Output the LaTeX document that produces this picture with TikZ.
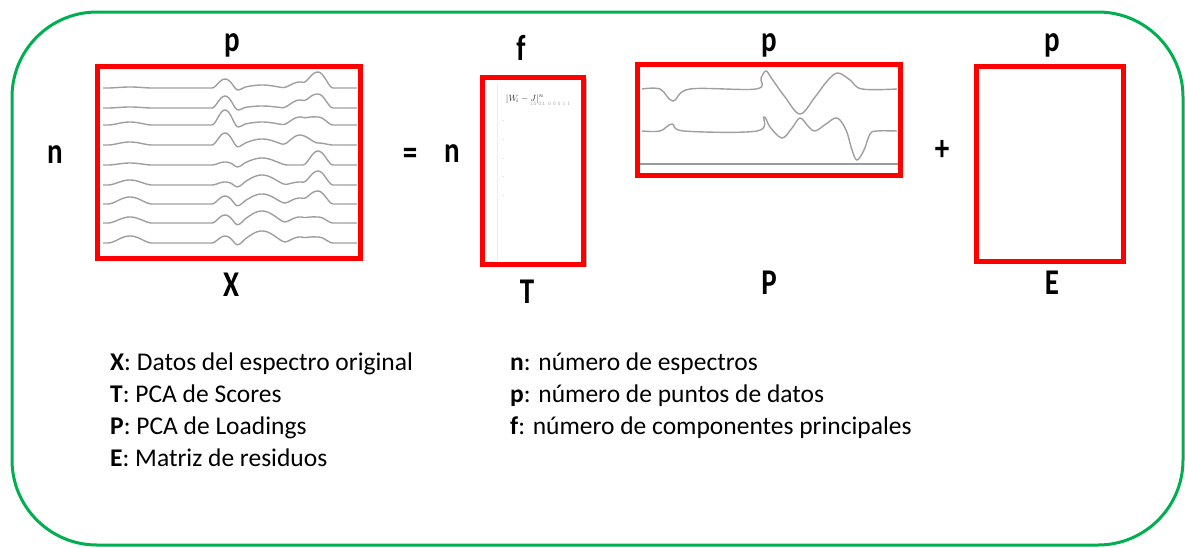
\documentclass[tikz,border=0pt]{standalone}
\usepackage{fontspec}
\setmainfont{Carlito}
\usepackage{graphicx}
\definecolor{frameGreen}{RGB}{0,176,80}
\definecolor{boxRed}{RGB}{255,0,0}
\tikzset{
  redbox/.style={draw=boxRed, line width=5pt},
  spec/.style={gray!75, line width=1.4pt},
  biglbl/.style={font=\fontsize{29}{30}\selectfont\bfseries, inner sep=0pt},
  legend/.style={font=\fontsize{25.5}{32}\selectfont, anchor=base west, inner sep=0pt},
  declare function={bump(\t,\c,\w)=(max(0,1-((\t-\c)/\w)^2))^2;}
}
\newcommand{\tall}[1]{\scalebox{1}[1.25]{#1}}
\begin{document}
\begin{tikzpicture}[x=1pt,y=-1pt]
\useasboundingbox (0,0) rectangle (1185,547);
% outer frame
\draw[frameGreen, line width=3pt, rounded corners=85pt] (12,12) rectangle (1183,545);

% X spectra
\foreach \yy/\aa/\bb/\cc/\dd/\ee in {88/1/9/3/16/6, 108/1/12/2/14/8, 125/3/15/3/8/8, 145/3/12/6/2/10, 165/2/3/7/14/0, 185/5/3/10/14/3, 204/7/8/10/13/6, 223/6/8/12/6/6, 243/7/7/12/6/6}{
  \draw[spec] plot[domain=103:357, samples=160, smooth]
    (\x, {\yy - \aa*bump(\x,130,22) - \bb*bump(\x,225,13) + 2*bump(\x,238,8) - \cc*bump(\x,262,26) - \ee*bump(\x,300,18) - \dd*bump(\x,318,15)});
}
\draw[redbox] (97,66) rectangle (360,258);

% T box
\draw[gray!60, line width=1.5pt] (586,79) -- (586,266) -- (490,266);
\draw[gray!15, line width=1pt] (497,84) -- (497,262);
\node[inner sep=0pt, font=\fontsize{9}{9}\selectfont\bfseries, text=black!80] (tlabel) at (525,99) {$|W_{\!i}-J|^{n}$};
\node[inner sep=0pt, font=\fontsize{5}{5}\selectfont, text=gray!70] (trow) at (550,104) {1.0~~0.1~~~0~~0~~0~~1~~1};
\foreach \yy [count=\i] in {122,141,160,178,197}{
  \node[inner sep=0pt, font=\fontsize{6}{6}\selectfont, text=gray!70] (tm\i) at (503,\yy) {-};
}
\draw[redbox] (482,77) rectangle (583,264);

% P loadings
\draw[spec] plot[smooth, tension=0.6] coordinates {(642,89) (660,89) (673,101) (690,89) (756,89) (761,78) (766,71) (772,79) (785,97) (800,114) (815,97) (828,80) (838,73) (850,80) (862,89) (897,89)};
\draw[spec] plot[smooth, tension=0.6] coordinates {(642,131) (660,131) (672,124) (684,131) (757,131) (764,117) (770,127) (782,138) (792,128) (800,118) (808,126) (815,131) (826,124) (837,118) (846,130) (852,150) (857,160) (864,150) (870,134) (877,131) (897,131)};
\draw[gray!80, line width=2pt] (640,164) -- (899,164);
\draw[redbox] (637,64) rectangle (900,175);

% E box
\draw[redbox] (976,66) rectangle (1123,261);

% labels
\node[biglbl] (pX) at (232,45) {\tall{p}};
\node[biglbl] (nX) at (55,155) {\tall{n}};
\node[biglbl] (eq) at (410,156) {\tall{=}};
\node[biglbl] (nT) at (452,154) {\tall{n}};
\node[biglbl] (fT) at (521,48) {\tall{f}};
\node[biglbl] (pP) at (769,45) {\tall{p}};
\node[biglbl] (plus) at (942,150) {\tall{+}};
\node[biglbl] (pE) at (1052,45) {\tall{p}};
\node[biglbl] (lX) at (231,285) {\tall{X}};
\node[biglbl] (lT) at (527,292) {\tall{T}};
\node[biglbl] (lP) at (769,283) {\tall{P}};
\node[biglbl] (lE) at (1052,283) {\tall{E}};

% legend
\node[legend] (legX) at (110,370) {\textbf{X}: Datos del espectro original};
\node[legend] (legT) at (110,402) {\textbf{T}: PCA de Scores};
\node[legend] (legP) at (110,434) {\textbf{P}: PCA de Loadings};
\node[legend] (legE) at (110,466) {\textbf{E}: Matriz de residuos};
\node[legend] (legn) at (510,370) {\textbf{n}: número de espectros};
\node[legend] (legp) at (510,402) {\textbf{p}: número de puntos de datos};
\node[legend] (legf) at (510,434) {\textbf{f}: número de componentes principales};
\end{tikzpicture}
\end{document}
